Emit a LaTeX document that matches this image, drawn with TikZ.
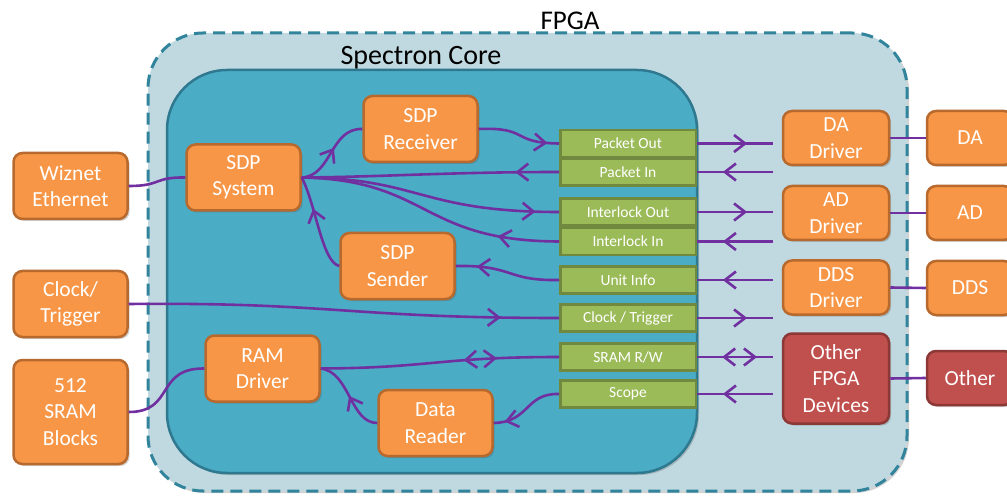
\documentclass[tikz,border=0pt]{standalone}
\usepackage{fontspec}
\setmainfont{Carlito}
\usetikzlibrary{arrows.meta,decorations.markings,shadows}
\definecolor{orF}{HTML}{F79646}
\definecolor{orB}{HTML}{B7692E}
\definecolor{rdF}{HTML}{C0504D}
\definecolor{rdB}{HTML}{8C3836}
\definecolor{grF}{HTML}{9BBB59}
\definecolor{grB}{HTML}{71893F}
\definecolor{purp}{HTML}{7030A0}
\definecolor{fpgaF}{HTML}{C0D9E0}
\definecolor{fpgaB}{HTML}{31849B}
\definecolor{coreF}{HTML}{4BACC6}
\definecolor{coreB}{HTML}{2E7890}
\tikzset{
  shad/.style={drop shadow={shadow xshift=2pt, shadow yshift=-2pt, opacity=0.25, fill=black!70}},
  blk/.style={draw=orB, fill=orF, line width=2.5pt, rounded corners=9pt, text=white,
    font=\fontsize{21.5}{26.5}\selectfont, align=center, inner sep=0pt,
    minimum width=114pt, minimum height=66pt, shad},
  drv/.style={blk, minimum width=106pt, minimum height=54pt},
  redblk/.style={draw=rdB, fill=rdF},
  port/.style={draw=grB, fill=grF, line width=2.5pt, text=white,
    font=\fontsize{15.5}{18}\selectfont, minimum width=135.5pt, minimum height=27pt, inner sep=0pt},
  wire/.style={draw=purp, line width=2.6pt},
  barb/.tip={Straight Barb[length=11pt, width=17pt]},
  tipat/.style={postaction={decorate}, decoration={markings, mark=at position #1 with {\arrow{barb}}}},
}
\begin{document}
\begin{tikzpicture}[x=1pt,y=-1pt]
\path[use as bounding box, clip] (0,0) rectangle (1007,497);
% containers
\node[draw=fpgaB, fill=fpgaF, line width=3pt, dash pattern=on 12pt off 7pt, rounded corners=55pt,
  minimum width=759pt, minimum height=458pt, inner sep=0pt, shad] (fpga) at (527.5,262) {};
\node[font=\fontsize{27}{30}\selectfont] (fpgalbl) at (570,21) {FPGA};
\node[draw=coreB, fill=coreF, line width=2.5pt, rounded corners=60pt,
  minimum width=530pt, minimum height=403pt, inner sep=0pt, shad] (core) at (432,271.5) {};
\node[font=\fontsize{28}{31}\selectfont] (corelbl) at (421,58) {Spectron Core};

% blocks
\node[blk] (wiz) at (70.5,186) {Wiznet\\Ethernet};
\node[blk] (sys) at (243.5,177.5) {SDP\\System};
\node[blk] (rcv) at (420.5,129) {SDP\\Receiver};
\node[blk] (snd) at (397.5,266) {SDP\\Sender};
\node[blk] (clk) at (70.5,304) {Clock/\\Trigger};
\node[blk, minimum height=104pt] (sram) at (70.5,412) {512\\SRAM\\Blocks};
\node[blk] (ram) at (262.5,368.5) {RAM\\Driver};
\node[blk] (dr) at (435.5,423) {Data\\Reader};

\node[drv] (dad) at (836,138) {DA\\Driver};
\node[drv] (add) at (836,213) {AD\\Driver};
\node[drv] (ddsd) at (836,287.5) {DDS\\Driver};
\node[drv, redblk, minimum height=90pt] (oth) at (836,378.5) {Other\\FPGA\\Devices};

\node[drv, minimum width=86pt] (da) at (970,138) {DA};
\node[drv, minimum width=86pt] (ad) at (970,213) {AD};
\node[drv, minimum width=86pt] (dds) at (970,288) {DDS};
\node[drv, redblk, minimum width=86pt] (other) at (970,378) {Other};

% ports
\node[port] (po) at (628,143.5) {Packet Out};
\node[port] (pi) at (628,172) {Packet In};
\node[port] (io) at (628,212) {Interlock Out};
\node[port] (ii) at (628,241.5) {Interlock In};
\node[port] (ui) at (628,280) {Unit Info};
\node[port] (ct) at (628,318) {Clock / Trigger};
\node[port] (sw) at (628,357) {SRAM R/W};
\node[port] (sc) at (628,394) {Scope};

% free ends
\coordinate (e1) at (773,143.5);
\coordinate (e2) at (773,172);
\coordinate (e3) at (773,212);
\coordinate (e4) at (773,241.5);
\coordinate (e5) at (773,280);
\coordinate (e6) at (773,318);
\coordinate (e7) at (773,357);
\coordinate (e8) at (773,394);

% internal wires
\draw[wire] (wiz.east) .. controls (162,186) and (153,177) .. (sys.west);
\draw[wire, tipat=0.56] (sys.east) .. controls (332,176) and (330,128) .. (rcv.west);
\draw[wire, tipat=0.86] (rcv.east) .. controls (530,127) and (510,143) .. (po.west);
\draw[wire, tipat=0.17] (pi.west) .. controls (450,172) and (380,177) .. (sys.east);
\draw[wire, tipat=0.91] (sys.east) .. controls (420,178) and (420,212) .. (io.west);
\draw[wire, tipat=0.23] (ii.west) .. controls (420,241) and (430,180) .. (sys.east);
\draw[wire, tipat=0.66] (snd.west) .. controls (322,262) and (316,205) .. (sys.east);
\draw[wire, tipat=0.8] (ui.west) .. controls (505,281) and (515,265) .. (snd.east);
\draw[wire, tipat=0.865] (clk.east) .. controls (330,302) and (350,318) .. (ct.west);
\draw[wire] (sram.east) .. controls (175,412) and (155,368) .. (ram.west);
\draw[wire, postaction={decorate}, decoration={markings,
    mark=at position 0.6 with {\arrowreversed{barb}},
    mark=at position 0.74 with {\arrow{barb}}}]
  (ram.east) .. controls (430,368) and (440,357) .. (sw.west);
\draw[wire, tipat=0.5] (dr.west) .. controls (350,423) and (350,372) .. (ram.east);
\draw[wire, tipat=0.85] (sc.west) .. controls (525,393) and (530,422) .. (dr.east);

% outer port wires
\draw[wire, tipat=0.66] (po.east) -- (e1);
\draw[wire, tipat=0.66] (e2) -- (pi.east);
\draw[wire, tipat=0.66] (io.east) -- (e3);
\draw[wire, tipat=0.66] (e4) -- (ii.east);
\draw[wire, tipat=0.66] (e5) -- (ui.east);
\draw[wire, tipat=0.66] (ct.east) -- (e6);
\draw[wire, postaction={decorate}, decoration={markings,
    mark=at position 0.33 with {\arrowreversed{barb}},
    mark=at position 0.79 with {\arrow{barb}}}]
  (sw.east) -- (e7);
\draw[wire, tipat=0.66] (e8) -- (sc.east);

% driver links
\draw[wire] (dad.east) -- (da.west);
\draw[wire] (add.east) -- (ad.west);
\draw[wire] (ddsd.east) -- (dds.west);
\draw[wire] (oth.east) -- (other.west);
\end{tikzpicture}
\end{document}
